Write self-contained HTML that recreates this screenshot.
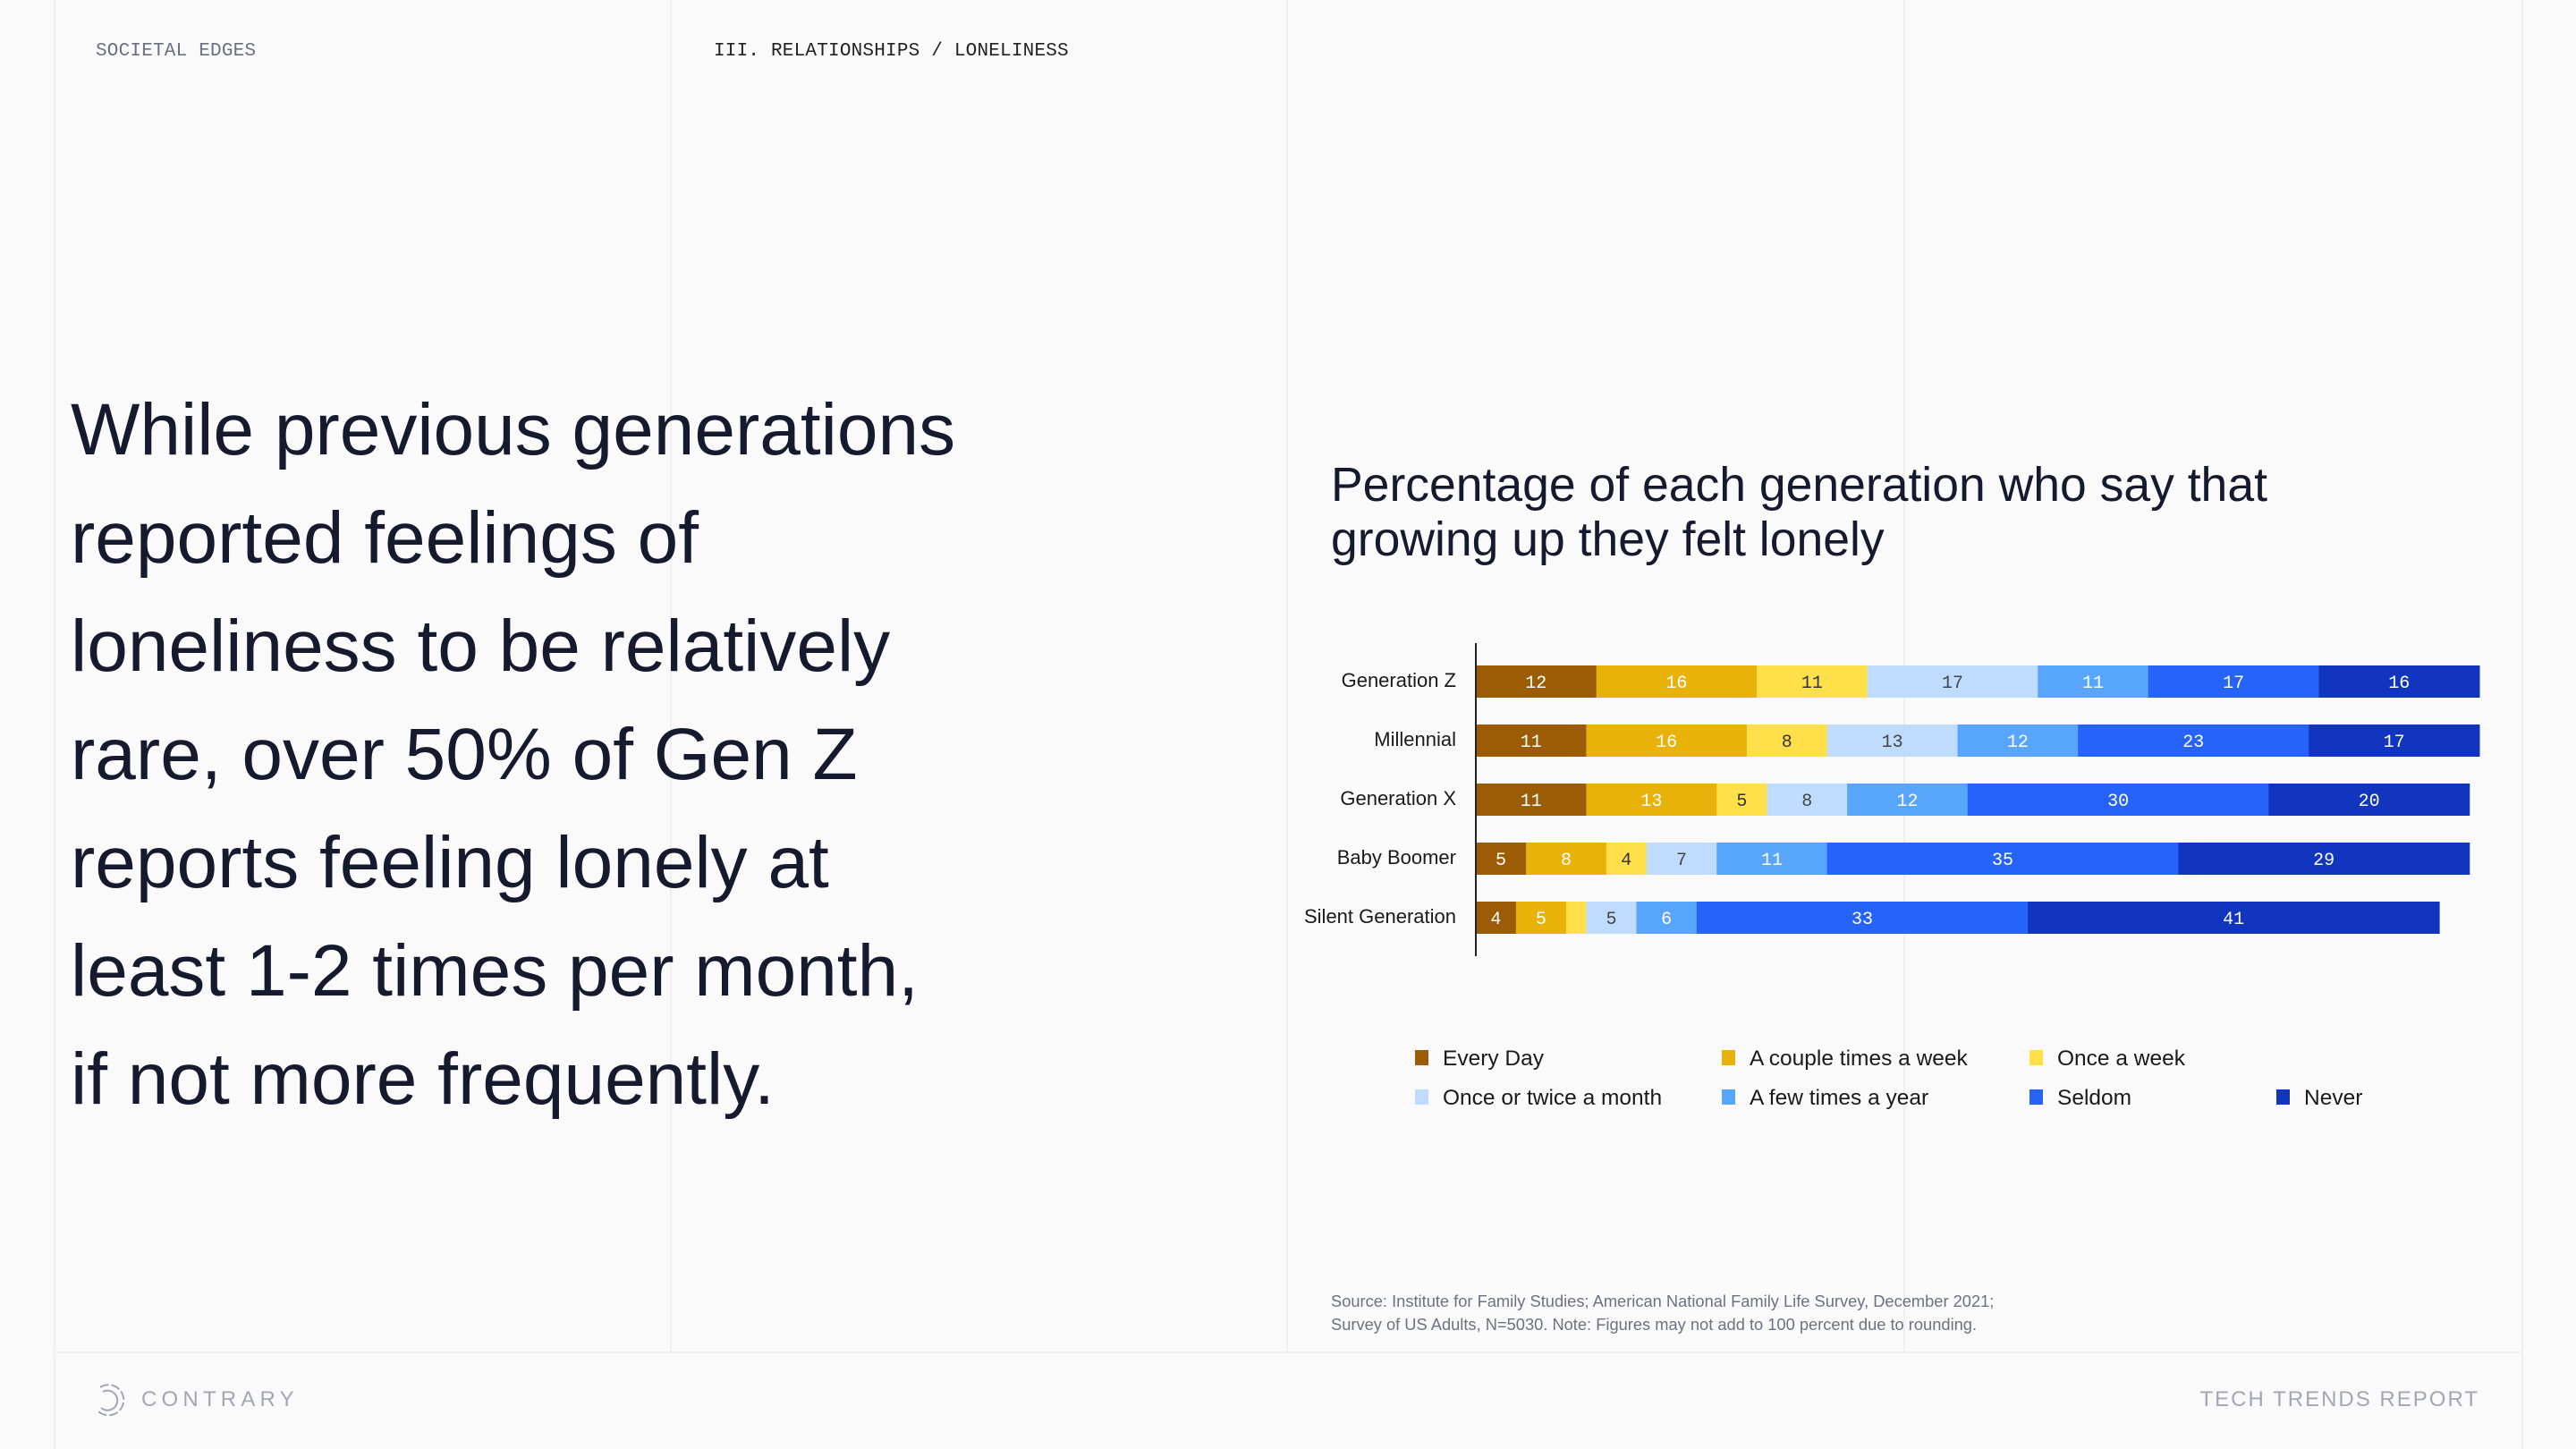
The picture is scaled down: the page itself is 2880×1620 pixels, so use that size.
<!DOCTYPE html>
<html><head><meta charset="utf-8">
<style>
html,body{margin:0;padding:0;background:#fafafa;}
body{width:2880px;height:1620px;position:relative;overflow:hidden;font-family:"Liberation Sans",sans-serif;}
.vl{position:absolute;top:0;width:2px;height:1620px;background:#f0f0f0;}
.vs{height:1511px;}
.hdr{position:absolute;top:46px;font-family:"Liberation Mono",monospace;font-size:21px;letter-spacing:0.2px;}
.headline{position:absolute;left:79px;top:420px;font-size:82px;line-height:121px;color:#161a2e;letter-spacing:0px;}
.ctitle{position:absolute;left:1488px;top:512px;font-size:53.5px;line-height:61px;color:#161a2e;}
.src{position:absolute;left:1488px;top:1442px;font-size:18.3px;line-height:26px;color:#6b7280;}
</style></head>
<body>
<div class="vl" style="left:60px"></div>
<div class="vl vs" style="left:749px"></div>
<div class="vl vs" style="left:1438px"></div>
<div class="vl vs" style="left:2128px"></div>
<div class="vl" style="left:2819px"></div>
<div style="position:absolute;left:60px;top:1511px;width:2761px;height:2px;background:#f0f0f0"></div>

<div class="hdr" style="left:107px;color:#6b7080">SOCIETAL EDGES</div>
<div class="hdr" style="left:798px;color:#222">III. RELATIONSHIPS / LONELINESS</div>

<div class="headline">While previous generations<br>reported feelings of<br>loneliness to be relatively<br>rare, over 50% of Gen Z<br>reports feeling lonely at<br>least 1-2 times per month,<br>if not more frequently.</div>

<div class="ctitle">Percentage of each generation who say that<br>growing up they felt lonely</div>

<svg id="chart" width="2880" height="1620" style="position:absolute;left:0;top:0"></svg>

<div class="src">Source: Institute for Family Studies; American National Family Life Survey, December 2021;<br>Survey of US Adults, N=5030. Note: Figures may not add to 100 percent due to rounding.</div>

<svg style="position:absolute;left:104px;top:1545px" width="38" height="40" viewBox="0 0 38 40">
<g fill="none" stroke="#a3a7b5" stroke-width="2">
<path d="M8 6 A17 17 0 1 1 6 33" stroke-dasharray="10 3"/>
<path d="M11 11 A11 11 0 1 1 9 29"/>
</g></svg>
<div style="position:absolute;left:158px;top:1551px;font-size:24px;letter-spacing:5.2px;color:#a3a7b5">CONTRARY</div>
<div style="position:absolute;right:108px;top:1551px;font-size:24px;letter-spacing:2px;color:#a3a7b5">TECH TRENDS REPORT</div>

<script>
const categories = ["Generation Z","Millennial","Generation X","Baby Boomer","Silent Generation"];
const seriesNames = ["Every Day","A couple times a week","Once a week","Once or twice a month","A few times a year","Seldom","Never"];
const everyDay = [12,11,11,5,4];
const coupleWeek = [16,16,13,8,5];
const onceWeek = [11,8,5,4,2];
const onceTwiceMonth = [17,13,8,7,5];
const fewYear = [11,12,12,11,6];
const seldom = [17,23,30,35,33];
const never = [16,17,20,29,41];
const series = [everyDay,coupleWeek,onceWeek,onceTwiceMonth,fewYear,seldom,never];
const colors = ["#9c5c06","#e8b20b","#ffe04a","#bfdcfe","#58a5fd","#2563fb","#1235c0"];
const textColors = ["#fff","#fff","#333","#444","#fff","#fff","#fff"];
const showLabel = [[1,1,1,1,1],[1,1,1,1,1],[1,1,1,1,0],[1,1,1,1,1],[1,1,1,1,1],[1,1,1,1,1],[1,1,1,1,1]];

const NS="http://www.w3.org/2000/svg";
const svg=document.getElementById('chart');
const x0=1650, unit=11.22;
const xScale=v=>x0+v*unit;
const yBand=i=>744+i*66;
const barH=36;

function mk(tag,attrs){const e=document.createElementNS(NS,tag);for(const k in attrs)e.setAttribute(k,attrs[k]);svg.appendChild(e);return e;}

categories.forEach((c,i)=>{
  let cum=0;
  series.forEach((s,j)=>{
    const v=s[i];
    const r=mk('rect',{x:xScale(cum),y:yBand(i),width:v*unit+0.5,height:barH,fill:colors[j]});
    
    
    if(showLabel[j][i]){
      const t=mk('text',{x:xScale(cum+v/2),y:yBand(i)+barH/2+7,'text-anchor':'middle','font-family':'Liberation Mono, monospace','font-size':20,fill:textColors[j]});
      t.textContent=v;
      
      
    }
    cum+=v;
  });
  const l=mk('text',{x:1628,y:yBand(i)+barH/2+6,'text-anchor':'end','font-family':'Liberation Sans, sans-serif','font-size':22,fill:'#1a1a1a'});
  l.textContent=c;
  
  
});
const ax=mk('line',{x1:x0,x2:x0,y1:719,y2:1069,stroke:'#222','stroke-width':2});



const legX=[1582,1925,2269,2545];
const legPos=[[0,0],[1,0],[2,0],[0,1],[1,1],[2,1],[3,1]];
seriesNames.forEach((n,j)=>{
  const [cx,ry]=legPos[j];
  const y=1183+ry*44;
  const m=mk('rect',{x:legX[cx],y:y-9,width:15,height:17,fill:colors[j]});
  
  
  const t=mk('text',{x:legX[cx]+31,y:y+8,'font-family':'Liberation Sans, sans-serif','font-size':24.5,fill:'#1a1a1a'});
  t.textContent=n;
  
  
});
</script>
</body></html>
